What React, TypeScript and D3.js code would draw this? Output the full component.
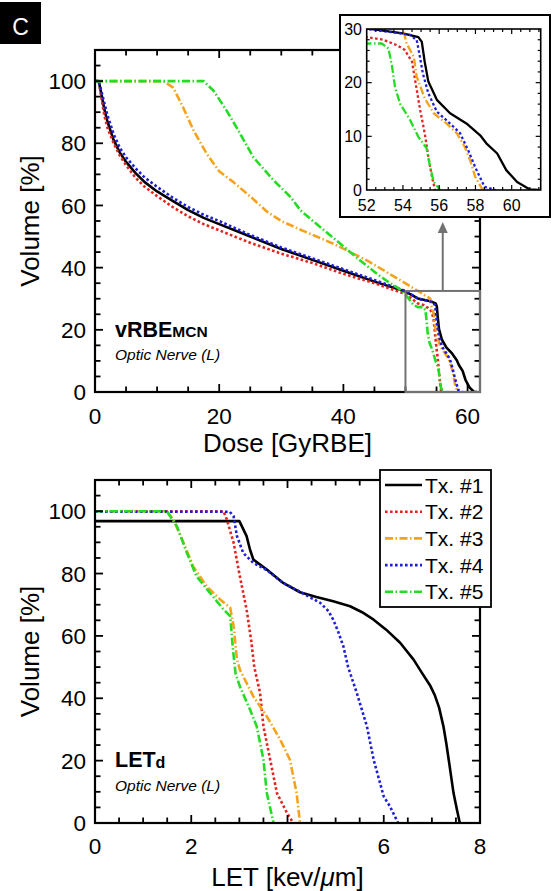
import React from 'react';
import * as d3 from 'd3';

type Pt = [number, number];

const seriesNames = ['Tx. #1', 'Tx. #2', 'Tx. #3', 'Tx. #4', 'Tx. #5'];
const seriesColors = ['#000000', '#e5231d', '#f5a31c', '#1d1ddb', '#24dc24'];
const seriesDash = ['none', '2.6,2.4', '8,2.5,1.5,2.5', '2.6,2.4', '8,2.5,1.5,2.5'];

// Dose-volume histograms (Dose [GyRBE], Volume [%])
const doseTx1: Pt[] = [[0, 100], [0.6, 100], [1, 96], [1.5, 91], [2, 87], [3, 81], [4, 77], [5, 74], [6.5, 70.5], [8, 67.5], [10, 64.5], [12.5, 61.5], [15, 58.5], [17.5, 56], [20, 54], [25, 50], [30, 46], [35, 42.5], [40, 39], [45, 35.5], [50, 32.3], [52, 30.1], [54, 29.2], [54.85, 28.5], [55.04, 27.6], [55.2, 23.9], [55.4, 20.2], [55.87, 16.8], [56.6, 14.3], [57.5, 12.4], [58.26, 10.2], [58.6, 8.7], [59.2, 6.8], [59.7, 3.7], [60.3, 1.5], [61, 0.1], [61.5, 0]];
const doseTx2: Pt[] = [[0, 100], [0.6, 100], [1, 95], [1.5, 89], [2, 85], [3, 80], [4, 76], [5, 73], [6.5, 69], [8, 66], [10, 63], [12.5, 59.5], [15, 56.5], [17.5, 54], [20, 52], [25, 48], [30, 44.5], [35, 41.5], [40, 38], [45, 35], [50, 31.5], [52, 28.5], [52.9, 28], [53.66, 27], [54.1, 26.1], [54.5, 23.9], [54.67, 20.5], [54.95, 14.9], [55.2, 10.6], [55.4, 6.2], [55.6, 2.5], [55.77, 0]];
const doseTx3: Pt[] = [[0, 100], [11, 100], [12.6, 97.9], [14.2, 91.5], [15.9, 84], [18, 76.6], [20, 71], [22.3, 67.5], [25.5, 62], [27.7, 58], [30, 55], [33.1, 52.2], [38.4, 47.7], [43.8, 42.3], [49.2, 35.9], [52, 32.5], [54, 30], [54.2, 27.3], [54.6, 24.8], [54.76, 21.1], [55.2, 17.1], [55.7, 14.3], [56.4, 12.4], [56.97, 10.6], [57.4, 8.1], [57.7, 5.6], [57.98, 2.5], [58.35, 0.3], [58.7, 0]];
const doseTx4: Pt[] = [[0, 100], [0.6, 100], [1, 97], [1.5, 93], [2, 89], [3, 83], [4, 78.5], [5, 75.5], [6.5, 72], [8, 69], [10, 66], [12.5, 62.5], [15, 59.5], [17.5, 57], [20, 55], [25, 50.5], [30, 46.5], [35, 43], [40, 39.5], [45, 36], [50, 32.5], [52, 30], [53.84, 29.2], [54.4, 28.9], [54.76, 27.9], [54.9, 25.5], [55.1, 21.7], [55.4, 18], [55.87, 14.6], [56.5, 12.7], [57.15, 10.6], [57.6, 7.4], [57.98, 4.3], [58.5, 0.6], [59.1, 0]];
const doseTx5: Pt[] = [[0, 100], [17.5, 100], [19.1, 96.9], [21.2, 90.5], [23.4, 83], [25.5, 75.5], [28.8, 68], [31.5, 62.7], [33.1, 58.4], [36.3, 53], [39.5, 47.7], [42.7, 42.3], [45.4, 38], [47.6, 34.9], [48.9, 33.3], [50.3, 30.6], [51.3, 28], [52, 27.3], [52.83, 27.3], [53.2, 26.4], [53.4, 23], [53.56, 19.2], [53.84, 16.1], [54.4, 13], [54.85, 9.9], [55.3, 7.8], [55.5, 4.3], [55.7, 1.5], [56.05, 0]];

// LET-volume histograms (LET [keV/um], Volume [%])
const letTx1: Pt[] = [[0, 96.8], [3.0, 96.8], [3.15, 92], [3.22, 87.7], [3.29, 84.5], [3.57, 81.3], [3.91, 77], [4.26, 74], [4.6, 72.5], [4.95, 71.1], [5.3, 69.5], [5.55, 67.6], [5.79, 65.2], [6.05, 62], [6.34, 57.8], [6.62, 52.4], [6.8, 48], [6.96, 44.2], [7.06, 41], [7.15, 37], [7.24, 31], [7.3, 25.5], [7.35, 20.3], [7.45, 9.6], [7.52, 4.3], [7.58, 0]];
const letTx2: Pt[] = [[0, 100], [2.67, 100], [2.74, 97.3], [2.88, 89.9], [3.01, 79.1], [3.15, 68.5], [3.25, 58], [3.31, 50], [3.43, 41.7], [3.5, 31], [3.64, 20.3], [3.78, 9.6], [3.99, 3.2], [4.12, 0]];
const letTx3: Pt[] = [[0, 100], [1.49, 100], [1.63, 97.3], [1.84, 89.9], [2.04, 82.3], [2.32, 75.9], [2.6, 71.7], [2.81, 69], [2.88, 63.1], [2.95, 52.4], [3.01, 49.2], [3.29, 40.6], [3.57, 34.2], [3.85, 26.7], [4.05, 20.3], [4.19, 9.6], [4.26, 0]];
const letTx4: Pt[] = [[0, 99.8], [2.8, 99.8], [2.88, 98.4], [2.95, 92], [3.08, 86.6], [3.29, 83.4], [3.57, 81.1], [3.91, 77], [4.3, 73.8], [4.68, 70.6], [4.85, 68], [4.95, 65.2], [5.05, 61.5], [5.16, 56.7], [5.26, 50], [5.44, 41.7], [5.65, 31], [5.79, 20.3], [6.0, 8.5], [6.13, 5.3], [6.3, 0]];
const letTx5: Pt[] = [[0, 100], [1.49, 100], [1.7, 95.2], [1.91, 86.6], [2.11, 79.1], [2.39, 73.8], [2.67, 68.5], [2.81, 66.3], [2.86, 56.7], [2.92, 48], [3.01, 43.8], [3.22, 36.4], [3.36, 31], [3.5, 20.3], [3.57, 9.6], [3.71, 0]];

const doseSeries = [doseTx1, doseTx2, doseTx3, doseTx4, doseTx5];
const letSeries = [letTx1, letTx2, letTx3, letTx4, letTx5];

const doseTicks = [0, 20, 40, 60];
const letTicks = [0, 2, 4, 6, 8];
const volumeTicks = [0, 20, 40, 60, 80, 100];
const insetXTicks = [52, 54, 56, 58, 60];
const insetYTicks = [0, 10, 20, 30];

const FONT = "'Liberation Sans', Arial, Helvetica, sans-serif";

type Scale = d3.ScaleLinear<number, number>;

function Frame(props: {
  x: Scale; y: Scale; xMajor: number[]; xMinor: number[]; yMajor: number[]; yMinor: number[];
  majLen: number; minLen: number; sw: number; boxW: number;
}) {
  const { x, y, xMajor, xMinor, yMajor, yMinor, majLen, minLen, sw, boxW } = props;
  const [x0, x1] = x.range();
  const [y0, y1] = y.range();
  const lines: JSX.Element[] = [];
  const addX = (v: number, len: number, k: string) => {
    const px = x(v);
    if (px <= x0 + 0.5 || px >= x1 - 0.5) return;
    lines.push(<line key={'xb' + k} x1={px} x2={px} y1={y0} y2={y0 - len} />);
    lines.push(<line key={'xt' + k} x1={px} x2={px} y1={y1} y2={y1 + len} />);
  };
  const addY = (v: number, len: number, k: string) => {
    const py = y(v);
    if (py >= y0 - 0.5 || py <= y1 + 0.5) return;
    lines.push(<line key={'yl' + k} x1={x0} x2={x0 + len} y1={py} y2={py} />);
    lines.push(<line key={'yr' + k} x1={x1} x2={x1 - len} y1={py} y2={py} />);
  };
  xMinor.forEach((v, i) => { if (!xMajor.includes(v)) addX(v, minLen, 'm' + i); });
  xMajor.forEach((v, i) => addX(v, majLen, 'M' + i));
  yMinor.forEach((v, i) => { if (!yMajor.includes(v)) addY(v, minLen, 'm' + i); });
  yMajor.forEach((v, i) => addY(v, majLen, 'M' + i));
  return (
    <g>
      <g stroke="#000" strokeWidth={sw}>{lines}</g>
      <rect x={x0} y={y1} width={x1 - x0} height={y0 - y1} fill="none" stroke="#000" strokeWidth={boxW} />
    </g>
  );
}

function Curves(props: { x: Scale; y: Scale; series: Pt[][]; clipId: string; width: number }) {
  const { x, y, series, clipId, width } = props;
  const gen = d3.line<Pt>().x(d => x(d[0])).y(d => y(d[1]));
  return (
    <g clipPath={`url(#${clipId})`}>
      {series.map((s, i) => (
        <path key={i} d={gen(s) || ''} fill="none" stroke={seriesColors[i]} strokeWidth={width}
          strokeDasharray={seriesDash[i]} strokeLinejoin="round" />
      ))}
    </g>
  );
}

export default function App() {
  const xDose = d3.scaleLinear().domain([0, 62]).range([95, 480]);
  const yTop = d3.scaleLinear().domain([0, 110]).range([392, 50]);
  const xIn = d3.scaleLinear().domain([52, 61.6]).range([366.7, 540.7]);
  const yIn = d3.scaleLinear().domain([0, 30]).range([190, 29]);
  const xLet = d3.scaleLinear().domain([0, 8]).range([95, 480]);
  const yBot = d3.scaleLinear().domain([0, 110]).range([823, 480]);

  const doseMinor = d3.range(0, 62.01, 5);
  const volMinor = d3.range(0, 110.01, 5);
  const letMinor = d3.range(0, 8.01, 0.5);
  const inXMinor = d3.range(52, 61.61, 0.5);
  const inYMinor = d3.range(0, 30.01, 2);

  const zoomX0 = 50, zoomX1 = 62, zoomY1 = 32.5;
  const zx0 = xDose(zoomX0), zx1 = xDose(zoomX1), zyTop = yTop(zoomY1), zyBot = yTop(0);
  const arrowX = (zx0 + zx1) / 2;

  const tickFont = 22.5;
  const titleFont = 26;

  return (
    <svg width={554} height={891} style={{ position: 'absolute', left: 0, top: 0, background: '#fff' }}
      fontFamily={FONT}>
      <defs>
        <clipPath id="clipTop"><rect x={95} y={50} width={385} height={342} /></clipPath>
        <clipPath id="clipIn"><rect x={366.7} y={29} width={174} height={161} /></clipPath>
        <clipPath id="clipBot"><rect x={95} y={480} width={385} height={343} /></clipPath>
      </defs>
      <rect x={0} y={0} width={554} height={891} fill="#fff" />

      <rect x={0} y={2} width={41} height={42} fill="#000" />
      <text x={20.5} y={34.5} fill="#fff" fontSize={23} textAnchor="middle">C</text>

      {/* Top panel */}
      <Curves x={xDose} y={yTop} series={doseSeries} clipId="clipTop" width={2.6} />
      <Frame x={xDose} y={yTop} xMajor={doseTicks} xMinor={doseMinor} yMajor={volumeTicks} yMinor={volMinor}
        majLen={8} minLen={5.5} sw={1.8} boxW={2.2} />
      {doseTicks.map(t => (
        <text key={'dt' + t} x={xDose(t)} y={424} fontSize={tickFont} textAnchor="middle">{t}</text>
      ))}
      {volumeTicks.map(t => (
        <text key={'vt' + t} x={86} y={yTop(t)} dy="0.36em" fontSize={tickFont} textAnchor="end">{t}</text>
      ))}
      <text x={287.5} y={452} fontSize={titleFont} textAnchor="middle">Dose [GyRBE]</text>
      <text transform={`translate(39,${(392 + 50) / 2}) rotate(-90)`} fontSize={titleFont} textAnchor="middle">Volume [%]</text>
      <text x={115} y={336.5} fontSize={21.5} fontWeight="bold">vRBE<tspan fontSize={15.5} dy={0.5}>MCN</tspan></text>
      <text x={115} y={360} fontSize={15.5} fontStyle="italic">Optic Nerve (L)</text>

      <rect x={zx0} y={zyTop} width={zx1 - zx0} height={zyBot - zyTop} fill="none" stroke="#727272" strokeWidth={2} />
      <line x1={arrowX} x2={arrowX} y1={zyTop} y2={231} stroke="#727272" strokeWidth={2} />
      <polygon points={`${arrowX},222 ${arrowX - 5},233 ${arrowX + 5},233`} fill="#727272" />

      {/* Inset */}
      <rect x={340} y={15} width={210} height={202} fill="#fff" stroke="#000" strokeWidth={2} />
      <Curves x={xIn} y={yIn} series={doseSeries} clipId="clipIn" width={2.3} />
      <Frame x={xIn} y={yIn} xMajor={insetXTicks} xMinor={inXMinor} yMajor={insetYTicks} yMinor={inYMinor}
        majLen={5} minLen={3} sw={1.2} boxW={1.6} />
      {insetXTicks.map(t => (
        <text key={'it' + t} x={xIn(t)} y={211} fontSize={16} textAnchor="middle">{t}</text>
      ))}
      {insetYTicks.map(t => (
        <text key={'iy' + t} x={362} y={yIn(t)} dy="0.36em" fontSize={16} textAnchor="end">{t}</text>
      ))}

      {/* Bottom panel */}
      <Curves x={xLet} y={yBot} series={letSeries} clipId="clipBot" width={2.6} />
      <Frame x={xLet} y={yBot} xMajor={letTicks} xMinor={letMinor} yMajor={volumeTicks} yMinor={volMinor}
        majLen={8} minLen={5.5} sw={1.8} boxW={2.2} />
      {letTicks.map(t => (
        <text key={'lt' + t} x={xLet(t)} y={853.5} fontSize={tickFont} textAnchor="middle">{t}</text>
      ))}
      {volumeTicks.map(t => (
        <text key={'bt' + t} x={86} y={yBot(t)} dy="0.36em" fontSize={tickFont} textAnchor="end">{t}</text>
      ))}
      <text x={287.5} y={886} fontSize={titleFont} textAnchor="middle">LET [kev/<tspan fontStyle="italic">μ</tspan>m]</text>
      <text transform={`translate(39,${(823 + 480) / 2}) rotate(-90)`} fontSize={titleFont} textAnchor="middle">Volume [%]</text>
      <text x={115} y={766.5} fontSize={21.5} fontWeight="bold">LET<tspan fontSize={16} dy={1}>d</tspan></text>
      <text x={115} y={791} fontSize={15.5} fontStyle="italic">Optic Nerve (L)</text>

      {/* Legend */}
      <rect x={380} y={470} width={111} height={137} fill="#fff" stroke="#000" strokeWidth={1.8} />
      {seriesNames.map((n, i) => {
        const cy = 485 + i * 26.7;
        return (
          <g key={n}>
            <line x1={385} x2={422} y1={cy} y2={cy} stroke={seriesColors[i]} strokeWidth={2.6} strokeDasharray={seriesDash[i]} />
            <text x={425} y={cy} dy="0.36em" fontSize={21}>{n}</text>
          </g>
        );
      })}
    </svg>
  );
}
